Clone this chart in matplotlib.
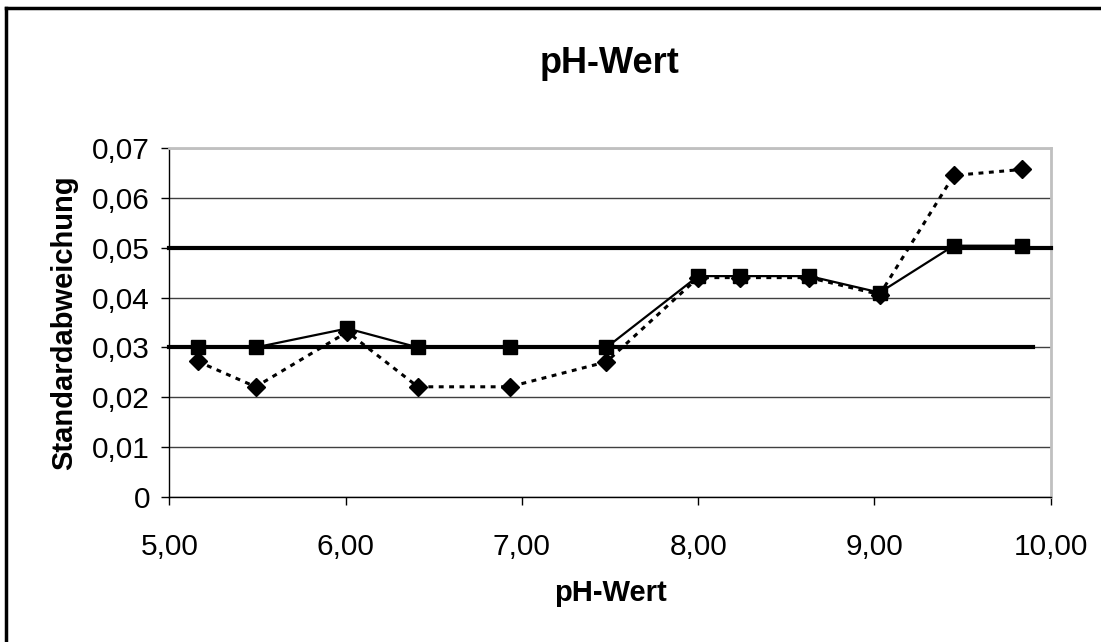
import numpy as np
import matplotlib.pyplot as plt
from matplotlib.lines import Line2D

plt.rcParams['font.family'] = ['Liberation Sans', 'DejaVu Sans']

# Daten
ph = [5.16, 5.49, 6.01, 6.41, 6.93, 7.48, 8.00, 8.24, 8.63, 9.03, 9.45, 9.84]
std_ist = [0.0272, 0.0221, 0.0331, 0.0221, 0.0221, 0.0271, 0.0440, 0.0440, 0.0440, 0.0406, 0.0645, 0.0657]
std_soll = [0.030, 0.030, 0.0338, 0.030, 0.030, 0.030, 0.0443, 0.0443, 0.0443, 0.0410, 0.0504, 0.0504]
grenze_unten_x = [5.0, 9.9]
grenze_unten_y = [0.03, 0.03]
grenze_oben_x = [5.0, 10.0]
grenze_oben_y = [0.05, 0.05]
xticks = [5, 6, 7, 8, 9, 10]
yticks = [0, 0.01, 0.02, 0.03, 0.04, 0.05, 0.06, 0.07]

fig = plt.figure(figsize=(11.01, 6.42), dpi=100)
ax = fig.add_axes([0.1538, 0.2259, 0.8005, 0.5436])

# Rahmen um die Grafik (nur oben und links sichtbar)
xl = 6 / 1101
yt = 1 - 8 / 642
fig.add_artist(Line2D([xl, 1.0], [yt, yt], transform=fig.transFigure, color='black', linewidth=2.5))
fig.add_artist(Line2D([xl, xl], [0.0, yt], transform=fig.transFigure, color='black', linewidth=2.5))

ax.set_xlim(5, 10)
ax.set_ylim(0, 0.07)
ax.set_xticks(xticks)
ax.set_yticks(yticks)
ax.set_xticklabels([f'{t:.2f}'.replace('.', ',') for t in xticks])
ax.set_yticklabels(['0'] + [f'{t:.2f}'.replace('.', ',') for t in yticks[1:]])
ax.tick_params(labelsize=21.5, length=6, width=1, direction='out')
ax.tick_params(axis='x', pad=20)
ax.tick_params(axis='y', pad=8)

ax.yaxis.grid(True, color='#404040', linewidth=1)
ax.set_axisbelow(True)
for s in ['top', 'right']:
    ax.spines[s].set_color('#c0c0c0')
    ax.spines[s].set_linewidth(2)
for s in ['left', 'bottom']:
    ax.spines[s].set_color('black')
    ax.spines[s].set_linewidth(1)

ax.plot(grenze_unten_x, grenze_unten_y, color='black', linewidth=3, clip_on=False, zorder=3)
ax.plot(grenze_oben_x, grenze_oben_y, color='black', linewidth=3, clip_on=False, zorder=3)
ax.plot(ph, std_ist, color='black', linestyle=(0, (1.6, 1.8)), linewidth=2.2,
        marker='D', markersize=9.5, zorder=4, clip_on=False)
ax.plot(ph, std_soll, color='black', linestyle='-', linewidth=1.6,
        marker='s', markersize=10.5, zorder=5, clip_on=False)

ax.set_title('pH-Wert', fontsize=26, fontweight='bold', pad=54)
ax.set_xlabel('pH-Wert', fontsize=21, fontweight='bold', labelpad=13)
ax.set_ylabel('Standardabweichung', fontsize=21, fontweight='bold', labelpad=10)

fig.savefig('out.png', dpi=100)
